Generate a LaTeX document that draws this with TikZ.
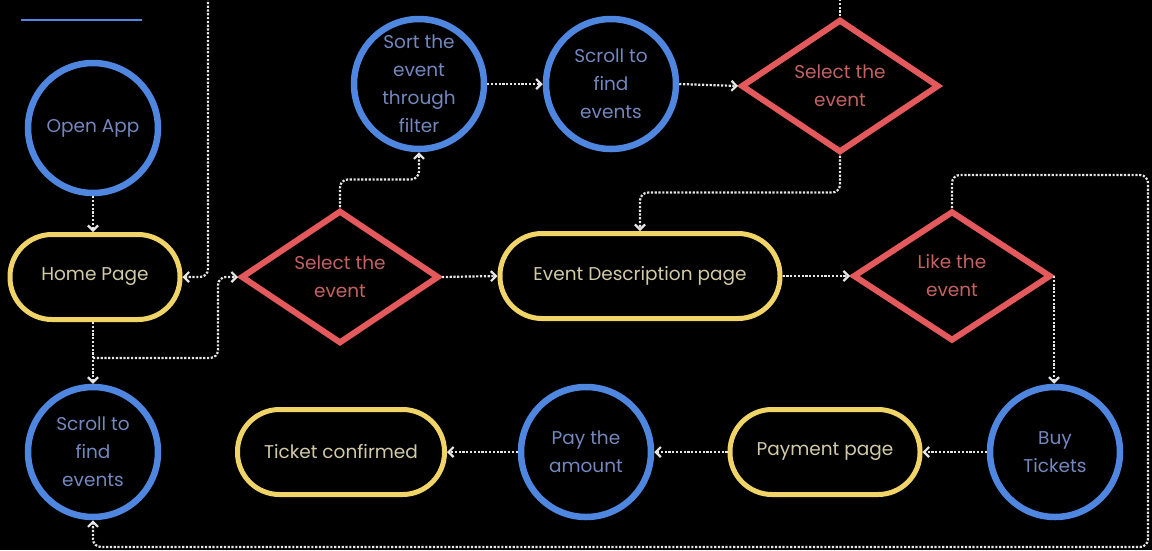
\documentclass[tikz,border=0pt]{standalone}
\usepackage{fontspec}
\setmainfont{Poppins}
\usetikzlibrary{arrows.meta,shapes.geometric}
\definecolor{cblue}{HTML}{4F86E0}
\definecolor{cyel}{HTML}{F0D468}
\definecolor{cred}{HTML}{E45A5C}
\definecolor{tblue}{HTML}{7487BE}
\definecolor{tyel}{HTML}{D2CAA6}
\definecolor{tred}{HTML}{C46262}
\definecolor{lnk}{HTML}{E6E6E6}
\begin{document}
\begin{tikzpicture}[x=1pt,y=-1pt,
 every node/.style={font=\fontsize{18.5}{28}\selectfont, align=center, inner sep=0pt},
 circ/.style={circle, draw=cblue, line width=6.5pt, minimum size=130pt, text=tblue},
 pill/.style={rectangle, rounded corners=42pt, draw=cyel, line width=5pt, minimum height=85pt, text=tyel},
 dia/.style={diamond, draw=cred, line width=6pt, minimum width=198pt, minimum height=130pt, text=tred},
 link/.style={draw=lnk, line width=2.2pt, dash pattern=on 2.2pt off 1.6pt, rounded corners=8pt},
 arr/.style={link, -{Straight Barb[length=5pt,width=10pt]}},
]
\fill[black] (0,0) rectangle (1152,550);
\useasboundingbox (0,0) rectangle (1152,550);
\draw[cblue, line width=2.5pt] (21,20) -- (142,20);

\node[circ] (open) at (93,128) {Open App};
\node[pill, minimum width=170pt] (home) at (95,277) {Home Page};
\node[circ] (scrollA) at (93,452) {Scroll to\\find\\events};
\node[dia] (sel1) at (340,277) {Select the\\event};
\node[circ] (sort) at (419,84) {Sort the\\event\\through\\filter};
\node[circ] (scrollB) at (611,84) {Scroll to\\find\\events};
\node[dia] (sel2) at (840,86) {Select the\\event};
\node[pill, minimum width=280pt] (event) at (640,276) {Event Description page};
\node[dia] (like) at (952,276) {Like the\\event};
\node[circ] (buy) at (1055,452) {Buy\\Tickets};
\node[pill, minimum width=190pt] (paypage) at (825,452) {Payment page};
\node[circ] (pay) at (586,452) {Pay the\\amount};
\node[pill, minimum width=207pt] (ticket) at (341,452) {Ticket confirmed};

\coordinate (t1) at (208,-2);
\coordinate (t2) at (840,-2);
\coordinate (b1) at (93,358);
\coordinate (r1) at (1148,175);
\coordinate (r2) at (93,547);

\draw[arr] (open.south) -- (open.south |- home.north);
\draw[arr] (t1) |- (home.east);
\draw[arr] (open.south |- home.south) -- (scrollA.north);
\draw[arr] (b1) -- ++(125,0) |- (sel1.west);
\draw[arr] (sel1.north) -- ++(0,-28) -| (sort.south);
\draw[arr] (sort.east) -- (scrollB.west);
\draw[arr] (scrollB.east) -- (sel2.west);
\draw[link] (sel2.north) -- (t2);
\draw[arr] (sel2.south) -- ++(0,37) -| (event.north);
\draw[arr] (sel1.east) -- (event.west);
\draw[arr] (event.east) -- (like.west);
\draw[arr] (like.east) -- (like.east |- buy.north);
\draw[arr] (buy.west) -- (paypage.east);
\draw[arr] (paypage.west) -- (pay.east);
\draw[arr] (pay.west) -- (ticket.east);
\draw[arr] (like.north) |- (r1) |- (r2) -- (scrollA.south);
\end{tikzpicture}
\end{document}
